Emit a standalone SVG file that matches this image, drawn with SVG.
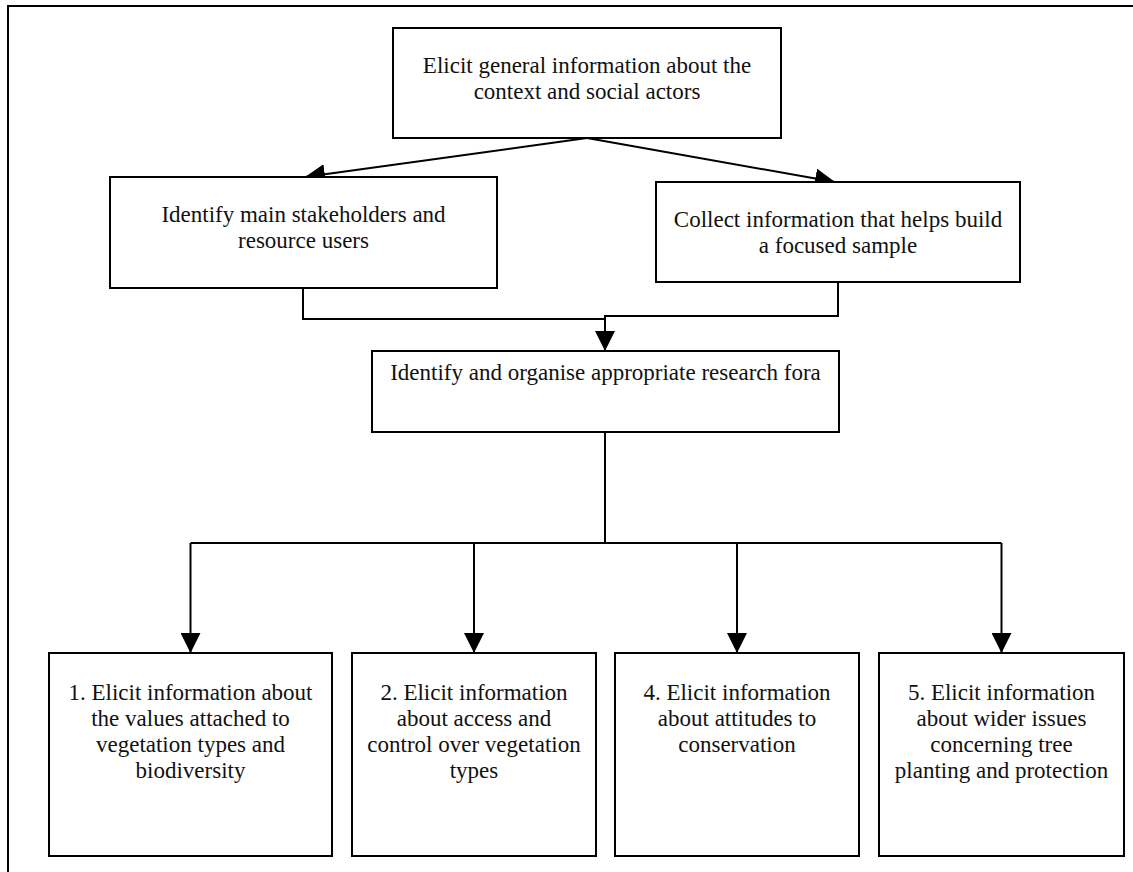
<svg xmlns="http://www.w3.org/2000/svg" width="1133" height="872" viewBox="0 0 1133 872">
<style>
.box{fill:#fff;stroke:#000;stroke-width:2}
.ln{fill:none;stroke:#000;stroke-width:2}
text{font-family:"Liberation Serif","Times New Roman",serif;font-size:23px;fill:#111;text-anchor:middle}
</style>
<defs>
<marker id="ah" markerUnits="userSpaceOnUse" markerWidth="20" markerHeight="20" refX="20" refY="10" orient="auto">
<path d="M0,0 L20,10 L0,20 z" fill="#000"/>
</marker>
</defs>
<rect x="8" y="6" width="1140" height="880" fill="none" stroke="#000" stroke-width="2"/>
<g id="connectors">
<path class="ln" d="M587,138 L305,177" marker-end="url(#ah)"/>
<path class="ln" d="M587,138 L835,182" marker-end="url(#ah)"/>
<path class="ln" d="M303,288 V319 H605"/>
<path class="ln" d="M838,282 V316 H605 V351" marker-end="url(#ah)"/>
<path class="ln" d="M605,432 V543"/>
<path class="ln" d="M190.5,543 H1001.5"/>
<path class="ln" d="M190.5,543 V653" marker-end="url(#ah)"/>
<path class="ln" d="M474,543 V653" marker-end="url(#ah)"/>
<path class="ln" d="M737,543 V653" marker-end="url(#ah)"/>
<path class="ln" d="M1001.5,543 V653" marker-end="url(#ah)"/>
</g>
<g id="n-context">
<rect class="box" x="393" y="28" width="388" height="110"/>
<text x="587" y="72.5">Elicit general information about the</text>
<text x="587" y="98.5">context and social actors</text>
</g>
<g id="n-stakeholders">
<rect class="box" x="110" y="177" width="387" height="111"/>
<text x="303.5" y="222">Identify main stakeholders and</text>
<text x="303.5" y="248">resource users</text>
</g>
<g id="n-sample">
<rect class="box" x="656" y="182" width="364" height="100"/>
<text x="838" y="227">Collect information that helps build</text>
<text x="838" y="253">a focused sample</text>
</g>
<g id="n-fora">
<rect class="box" x="372" y="351" width="467" height="81"/>
<text x="605.5" y="380">Identify and organise appropriate research fora</text>
</g>
<g id="n-values">
<rect class="box" x="49" y="653" width="283" height="203"/>
<text x="190.5" y="700">1. Elicit information about</text>
<text x="190.5" y="726">the values attached to</text>
<text x="190.5" y="752">vegetation types and</text>
<text x="190.5" y="778">biodiversity</text>
</g>
<g id="n-access">
<rect class="box" x="352" y="653" width="244" height="203"/>
<text x="474" y="700">2. Elicit information</text>
<text x="474" y="726">about access and</text>
<text x="474" y="752">control over vegetation</text>
<text x="474" y="778">types</text>
</g>
<g id="n-attitudes">
<rect class="box" x="615" y="653" width="244" height="203"/>
<text x="737" y="700">4. Elicit information</text>
<text x="737" y="726">about attitudes to</text>
<text x="737" y="752">conservation</text>
</g>
<g id="n-wider">
<rect class="box" x="879" y="653" width="245" height="203"/>
<text x="1001.5" y="700">5. Elicit information</text>
<text x="1001.5" y="726">about wider issues</text>
<text x="1001.5" y="752">concerning tree</text>
<text x="1001.5" y="778">planting and protection</text>
</g>
</svg>
